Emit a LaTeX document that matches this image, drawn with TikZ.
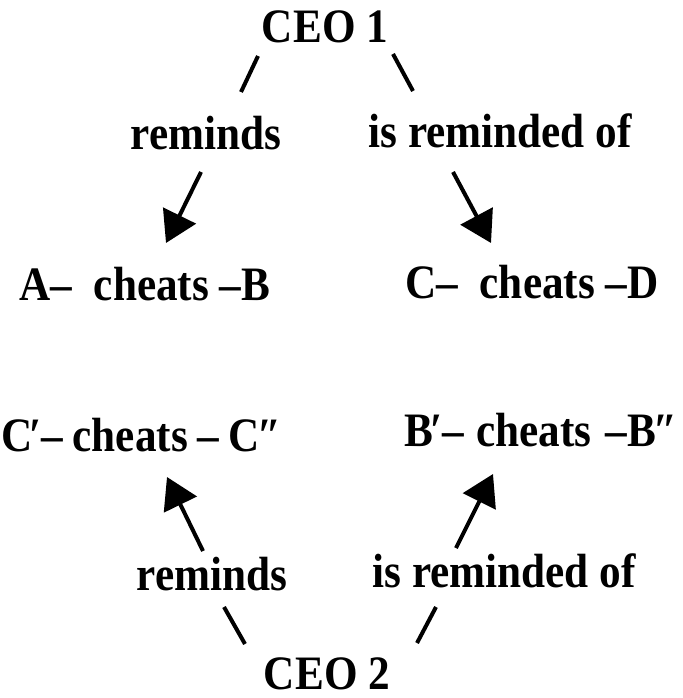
\documentclass[tikz,border=0pt]{standalone}
\usepackage{fontspec}
\setmainfont{Liberation Serif}[FakeStretch=0.9]
\usetikzlibrary{arrows.meta, positioning}

\tikzset{
    lbl/.style={font=\bfseries\fontsize{36}{40}\selectfont, inner sep=0pt, anchor=base},
    link/.style={line width=3pt},
    arr/.style={link, -{Triangle[length=23pt, width=27pt]}}
}
\newcommand{\pr}{\kern-0.06em′}
\newcommand{\dpr}{\kern-0.06em″}

\begin{document}
\begin{tikzpicture}[x=0.75pt, y=-0.75pt]
        \useasboundingbox (0,0) rectangle (682,698);
        % CEO 1 (top)
        \node[lbl] (ceo1) at (325,43) {CEO 1};
        \node[lbl] (remA) at (206,150) {reminds};
        \node[lbl] (isremA) at (500,148) {is reminded of};
        \node[lbl] (ab) at (145,300) {A–\hspace{0.45em}cheats –B};
        \node[lbl] (cd) at (532,298) {C–\hspace{0.45em}cheats –D};
        \draw[link] ([shift={(-67,13)}]ceo1.base) -- ([shift={(35,-58)}]remA.base);
        \draw[link] ([shift={(68,11)}]ceo1.base) -- ([shift={(-87,-57)}]isremA.base);
        \draw[arr] ([shift={(-5,22)}]remA.base) -- ([shift={(21,-57)}]ab.base);
        \draw[arr] ([shift={(-47,24)}]isremA.base) -- ([shift={(-41,-55)}]cd.base);

        % CEO 2 (bottom)
        \node[lbl] (cc) at (141,451) {C\pr–\hspace{0.2em}cheats\hspace{0.2em}–\hspace{0.2em}C\dpr};
        \node[lbl] (bb) at (541,446) {B\pr–\hspace{0.25em}cheats\hspace{0.3em}–B\dpr};
        \node[lbl] (remB) at (212,590) {reminds};
        \node[lbl] (isremB) at (504,587) {is reminded of};
        \node[lbl] (ceo2) at (327,689) {CEO 2};
        \draw[arr] ([shift={(-9,-39)}]remB.base) -- ([shift={(26,26)}]cc.base);
        \draw[arr] ([shift={(-48,-39)}]isremB.base) -- ([shift={(-48,28)}]bb.base);
        \draw[link] ([shift={(12,17)}]remB.base) -- ([shift={(-82,-45)}]ceo2.base);
        \draw[link] ([shift={(-68,20)}]isremB.base) -- ([shift={(90,-46)}]ceo2.base);
\end{tikzpicture}
\end{document}
